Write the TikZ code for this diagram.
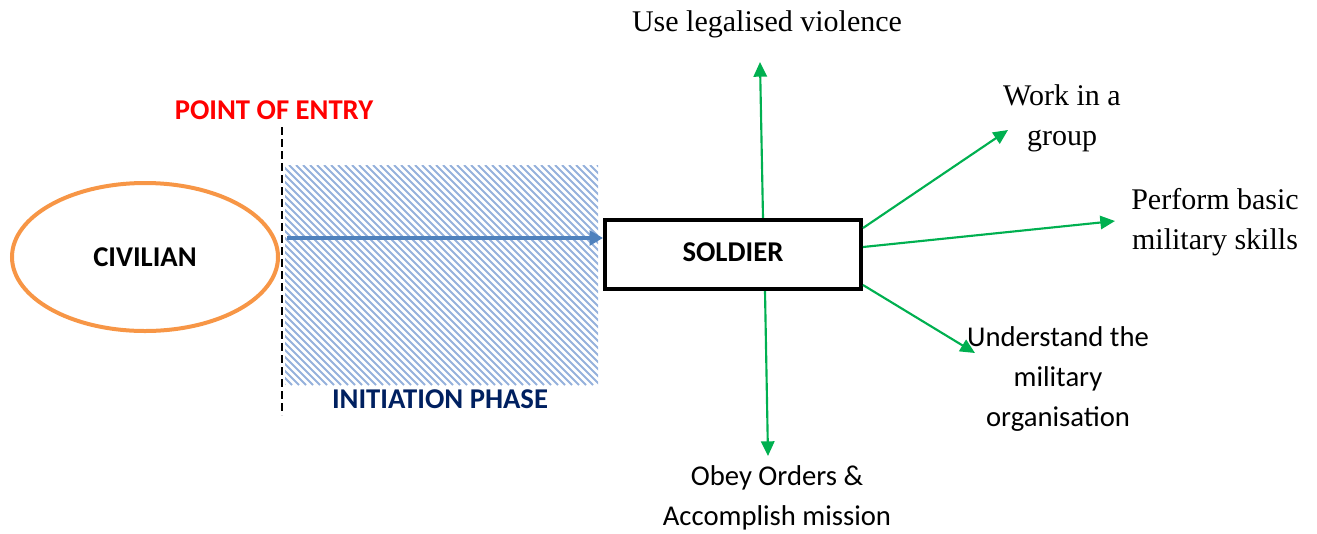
\documentclass[tikz,border=0pt]{standalone}
\usepackage{fontspec}
\usetikzlibrary{arrows.meta,shapes.geometric}
\newfontfamily\calib{Carlito}
\newfontfamily\camb{Liberation Serif}
\definecolor{civorange}{HTML}{F79646}
\definecolor{flowblue}{HTML}{4F81BD}
\definecolor{hatchblue}{HTML}{95B1DC}
\definecolor{navy}{HTML}{002060}
\definecolor{skillgreen}{HTML}{00B050}
\begin{document}
\begin{tikzpicture}[x=0.75pt,y=-0.75pt,
  sanslabel/.style={font=\calib\fontsize{21.5}{30}\selectfont,align=center,inner sep=0pt},
  seriflabel/.style={font=\camb\fontsize{22.5}{30}\selectfont,align=center,inner sep=0pt},
  headlabel/.style={font=\calib\bfseries\fontsize{21.5}{26}\selectfont},
  outcome/.style={draw=skillgreen,line width=1.6pt,-{Triangle[length=11pt,width=10pt]}}]
\useasboundingbox (0,0) rectangle (1317,533);

% initiation phase: hatched band
\begin{scope}
  \clip (285,165) rectangle (598,385);
  \foreach \i in {65,72,...,600}
    \draw[hatchblue,line width=1.5pt] (\i,165) -- ++(220,220);
\end{scope}

% civilian
\node[draw=civorange,line width=3pt,ellipse,minimum width=199.5pt,minimum height=111pt,
      headlabel] (civ) at (145,257) {CIVILIAN};

% point of entry
\coordinate (entrytop) at (282,127);
\coordinate (entrybot) at (282,415);
\draw[black,line width=1.2pt,dash pattern=on 6pt off 3pt] (entrytop) -- (entrybot);
\node[headlabel,text=red] (poe) at (274,110) {POINT OF ENTRY};
\node[headlabel,text=navy] (init) at (440,399) {INITIATION PHASE};

% soldier
\node[draw=black,line width=3pt,minimum width=192pt,minimum height=52pt,inner sep=0pt,
      headlabel] (sol) at (733,254.5) {\raisebox{3pt}{SOLDIER}};

% transition arrow
\coordinate (flowstart) at (287,238);
\draw[flowblue,line width=3.4pt,-{Triangle[length=10pt,width=11pt]}] (flowstart) -- (sol.west |- flowstart);

% outcomes
\node[seriflabel] (viol) at (767,24) {Use legalised violence};
\node[seriflabel] (group) at (1062,118) {Work in a\\group};
\node[seriflabel] (skills) at (1215,222) {Perform basic\\military skills};
\node[sanslabel] (org) at (1058,379) {Understand the\\military\\organisation};
\node[sanslabel] (obey) at (777,498) {Obey Orders \&\\Accomplish mission};

\coordinate (tipviol) at (760,62);
\coordinate (tipgroup) at (1008,130);
\coordinate (tipskills) at (1115,221);
\coordinate (tiporg) at (975,353);
\coordinate (tipobey) at (768,456);

\draw[outcome] (sol.north -| 763,0) -- (tipviol);
\draw[outcome] (sol.south -| 765,0) -- (tipobey);
\draw[outcome] (sol.east |- 0,228) -- (tipgroup);
\draw[outcome] (sol.east |- 0,247) -- (tipskills);
\draw[outcome] (sol.east |- 0,285) -- (tiporg);
\end{tikzpicture}
\end{document}
